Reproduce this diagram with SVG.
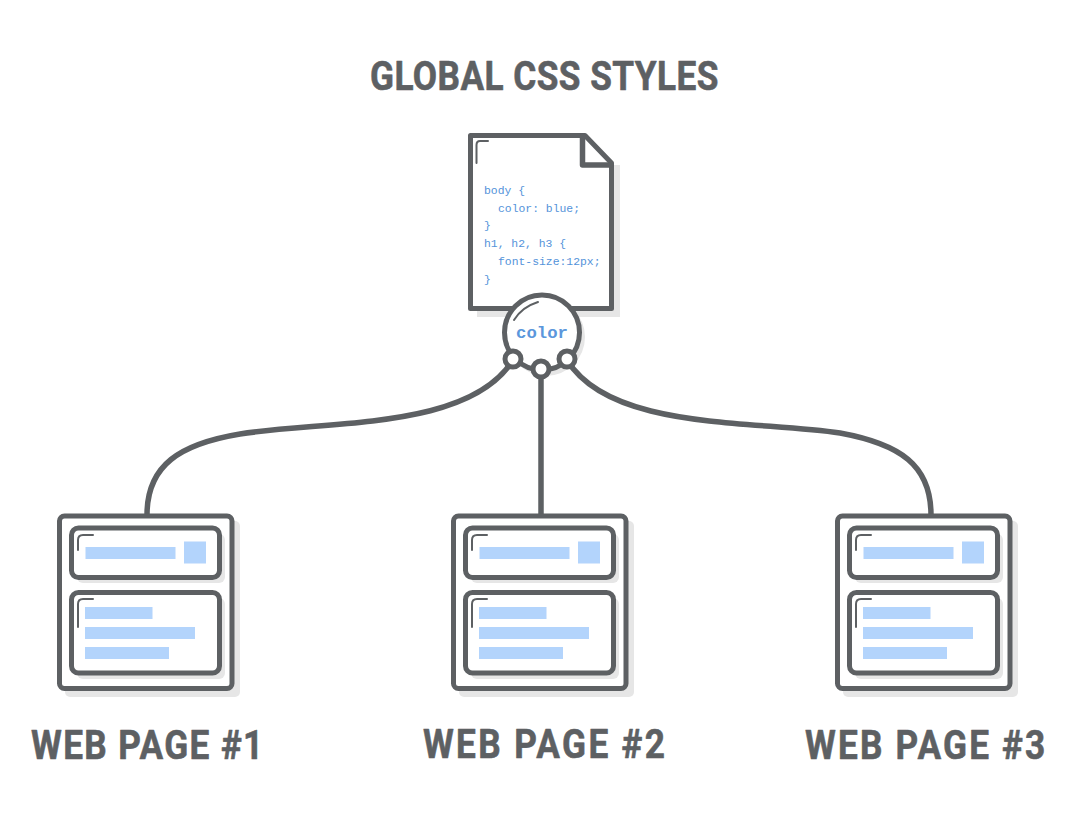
<svg xmlns="http://www.w3.org/2000/svg" width="1074" height="820" viewBox="0 0 1074 820">
<style>
.ln{fill:none;stroke:#5d6063;stroke-width:5.500;stroke-linejoin:round;stroke-linecap:round}
.box{fill:#fff;stroke:#5d6063;stroke-width:5;stroke-linejoin:round}
.hl{fill:none;stroke:#5d6063;stroke-width:2;stroke-linecap:round}
.sh{fill:#e6e6e6}
.bar{fill:#b3d4fc}
.lab{font-family:"Roboto","Liberation Sans",sans-serif;font-weight:700;font-size:40px;fill:#5d6063;stroke:#5d6063;stroke-width:.6;stroke-linejoin:round}
.code{font-family:"Liberation Mono",monospace;font-size:11.4px;fill:#5493da}
</style>
<defs>
<g id="page">
<rect class="sh" x="65" y="521" width="175" height="176" rx="5"/>
<rect class="box" x="59.500" y="516" width="172.500" height="172.500" rx="5"/>
<rect class="sh" x="77" y="534" width="148" height="49" rx="6"/>
<rect class="box" x="71.500" y="528" width="148" height="49.500" rx="7"/>
<rect class="sh" x="77" y="598" width="148" height="81" rx="6"/>
<rect class="box" x="71.500" y="592.500" width="148" height="80.500" rx="7"/>
<path class="hl" d="M78 550V540Q78 535 83 535H93"/>
<path class="hl" d="M78 627V604Q78 599 83 599H93"/>
<rect class="bar" x="85.500" y="547" width="90" height="12"/>
<rect class="bar" x="184" y="541.500" width="22" height="22"/>
<rect class="bar" x="85" y="607" width="67.500" height="12"/>
<rect class="bar" x="85" y="627" width="110" height="12"/>
<rect class="bar" x="85" y="647" width="84" height="12"/>
</g>
</defs>
<text id="title" class="lab" transform="translate(370 90) scale(.88 1)" textLength="396" lengthAdjust="spacing">GLOBAL CSS STYLES</text>
<g id="connectors">
<path class="ln" d="M513 360C470 430 330 420 240 434C180 444 147 465 147 515"/>
<path class="ln" d="M541 370V515"/>
<path class="ln" d="M567 360C610 430 750 420 840 433C900 444 931 465 931 515"/>
</g>
<g id="css-file">
<path class="sh" d="M477 165H620V317H477Z"/>
<path class="box" d="M470.500 135.500H585L611.500 163V308.500H470.500Z"/>
<path class="ln" d="M582.500 136V165H611"/>
<path class="hl" d="M476.500 163V145Q476.500 141 480 141H488"/>
<text class="code" x="484" y="194">body {</text>
<text class="code" x="498" y="212">color: blue;</text>
<text class="code" x="484" y="229">}</text>
<text class="code" x="484" y="247">h1, h2, h3 {</text>
<text class="code" x="498" y="265">font-size:12px;</text>
<text class="code" x="484" y="283">}</text>
</g>
<g id="color-node">
<circle class="sh" cx="546" cy="337" r="39"/>
<circle class="box" cx="542" cy="332.500" r="37.500"/>
<path class="hl" d="M514 320Q522 307 538 302"/>
<text x="542" y="338" text-anchor="middle" style="font-family:'Liberation Mono',monospace;font-weight:700;font-size:17.300px;fill:#5b97dc">color</text>
<circle class="box" cx="513" cy="359" r="8"/>
<circle class="box" cx="541" cy="369" r="8"/>
<circle class="box" cx="567" cy="359" r="8"/>
</g>
<g id="web-page-1"><use href="#page"/><text class="lab" transform="translate(31 759) scale(.88 1)" textLength="264" lengthAdjust="spacing">WEB PAGE #1</text></g>
<g id="web-page-2"><use href="#page" x="394"/><text class="lab" transform="translate(423 758) scale(.88 1)" textLength="275" lengthAdjust="spacing">WEB PAGE #2</text></g>
<g id="web-page-3"><use href="#page" x="778"/><text class="lab" transform="translate(805 759) scale(.88 1)" textLength="273" lengthAdjust="spacing">WEB PAGE #3</text></g>
</svg>
